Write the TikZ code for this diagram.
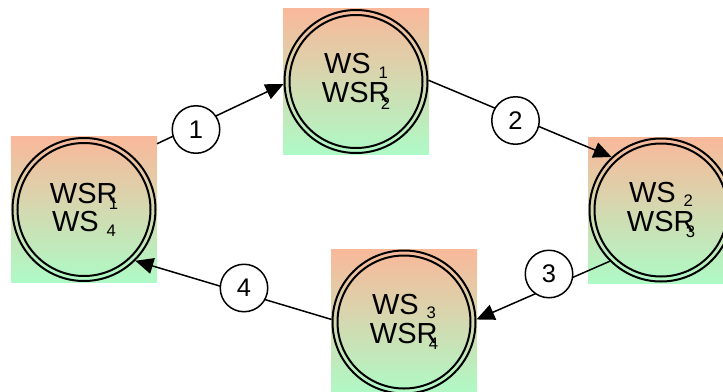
\documentclass[tikz,border=0pt]{standalone}
\usepackage{fontspec}
\setmainfont{Liberation Sans}
\usetikzlibrary{arrows.meta,shapes}
\tikzset{>={Triangle[length=0.36cm,width=0.32cm]}}
\definecolor{boxtop}{RGB}{249,184,154}
\definecolor{boxbot}{RGB}{174,250,198}
\newcommand{\wsidx}[1]{\kern4.5pt\raisebox{-2.5pt}{\fontsize{9.5}{9.5}\selectfont #1}}
\newcommand{\wsridx}[1]{\kern-5pt\raisebox{-3.8pt}{\fontsize{9.5}{9.5}\selectfont #1}}

\begin{document}
\begin{tikzpicture}
\def\boxW {2.92}  % side of the shaded square
\def\stateD {2.86} % diameter of the outer ring
\def\innerR {1.33} % radius of the inner ring
\tikzset{
  statebox/.style={rectangle, minimum size=\boxW cm, inner sep=0pt, outer sep=0pt, top color=boxtop, bottom color=boxbot, draw=none},
  state/.style={circle, draw=black, line width=0.04cm, minimum size=\stateD cm, inner sep=0pt, align=center,
    font=\fontsize{16.5}{16.3}\selectfont,
    path picture={\draw[line width=0.04cm] (path picture bounding box.center) circle (\innerR cm);}},
  numlbl/.style={circle, draw=black, fill=white, line width=0.03cm, minimum size=0.95cm, inner sep=0pt, font=\fontsize{14.5}{14.5}\selectfont},
  edge/.style={draw=black, line width=0.03cm, ->}
}
\clip (0,0) rectangle (14.46,-7.82);
% shaded squares:
 \node[statebox] (bx1) at (7.12,-1.63) {};
 \node[statebox] (bx2) at (13.22,-4.20) {};
 \node[statebox] (bx3) at (8.08,-6.44) {};
 \node[statebox] (bx4) at (1.68,-4.19) {};
% states:
 \node[state] (st1) at (bx1) {WS\wsidx{1}\\WSR\wsridx{2}};
 \node[state] (st2) at (bx2) {WS\wsidx{2}\\WSR\wsridx{3}};
 \node[state] (st3) at (bx3) {WS\wsidx{3}\\WSR\wsridx{4}};
 \node[state] (st4) at (bx4) {WSR\wsridx{1}\\WS\wsidx{4}};
%% transitions:
 \draw[edge] (bx4.42) -- (st1.182);
 \draw[edge] (st1.1) -- (st2.133);
 \draw[edge] (st2.225) -- (st3.2);
 \draw[edge] (st3.178) -- (st4.315);
%% numbers:
 \node[numlbl] (lb1) at (3.92,-2.59) {1};
 \node[numlbl] (lb2) at (10.31,-2.41) {2};
 \node[numlbl] (lb3) at (10.98,-5.48) {3};
 \node[numlbl] (lb4) at (4.88,-5.76) {4};
\end{tikzpicture}
\end{document}
